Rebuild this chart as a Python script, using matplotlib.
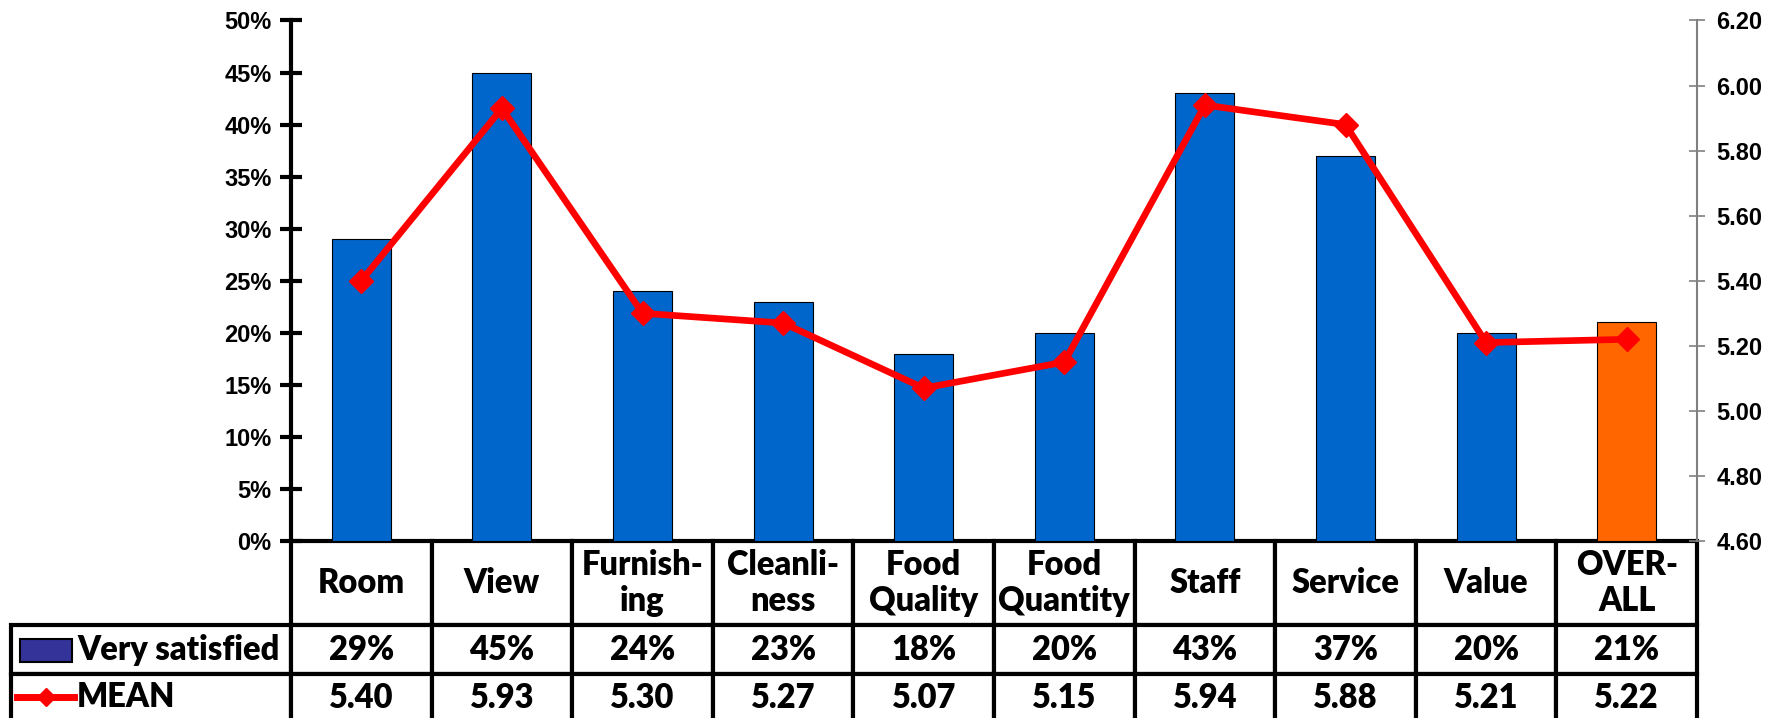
import matplotlib
matplotlib.use('Agg')
import matplotlib.pyplot as plt
import numpy as np
from matplotlib.table import Table
from matplotlib.lines import Line2D
from matplotlib.patches import Rectangle

categories = ['Room', 'View', 'Furnish-\ning', 'Cleanli-\nness', 'Food\nQuality',
              'Food\nQuantity', 'Staff', 'Service', 'Value', 'OVER-\nALL']
very_satisfied = [29, 45, 24, 23, 18, 20, 43, 37, 20, 21]
mean_scores = [5.40, 5.93, 5.30, 5.27, 5.07, 5.15, 5.94, 5.88, 5.21, 5.22]
pct_ticks = list(range(0, 51, 5))
mean_ticks = [4.6, 4.8, 5.0, 5.2, 5.4, 5.6, 5.8, 6.0, 6.2]

bar_colors = ['#0066CC'] * 9 + ['#FF6600']

plt.rcParams['font.family'] = ['Lato', 'DejaVu Sans']
plt.rcParams['font.weight'] = 'bold'
tick_font = {'family': 'Liberation Sans', 'weight': 'bold', 'size': 17}
TBL_SIZE = 23.5
TBL_WEIGHT = 'heavy'

W, H = 1789, 718
fig = plt.figure(figsize=(W / 100, H / 100), dpi=100)
# axes box in pixels: left 291, right 1697, top 20.5, bottom 541
ax = fig.add_axes([291 / W, 1 - 541 / H, 1406 / W, 520.5 / H])

x = np.arange(len(categories))
ax.bar(x, very_satisfied, width=0.42, color=bar_colors, edgecolor='black', linewidth=0.8, zorder=2)
ax.set_xlim(-0.5, len(categories) - 0.5)
ax.set_ylim(0, 50)
ax.set_yticks(pct_ticks)
ax.set_yticklabels([f'{v}%' for v in pct_ticks], fontdict=tick_font)
ax.set_xticks([])
for s in ['top', 'right', 'bottom']:
    ax.spines[s].set_visible(False)
ax.spines['left'].set_linewidth(3)
ax.tick_params(axis='y', direction='inout', length=16, width=3, pad=6)

ax2 = ax.twinx()
ax2.plot(x, mean_scores, color='#FF0000', lw=4.8, marker='D', ms=12.5, zorder=3)
ax2.set_ylim(4.6, 6.2)
ax2.set_yticks(mean_ticks)
ax2.set_yticklabels([f'{v:.2f}' for v in mean_ticks], fontdict=tick_font)
for s in ['top', 'left', 'bottom']:
    ax2.spines[s].set_visible(False)
ax2.spines['right'].set_color('#808080')
ax2.spines['right'].set_linewidth(1.5)
ax2.tick_params(axis='y', direction='inout', length=12, width=1.2, color='#808080',
                pad=8, labelcolor='black')

# data table under the chart (column 0 holds the row labels)
col_w, lab_w = 140.6, 280
head_h, row_h = 84, 49
tot_h = head_h + 2 * row_h
tbl = Table(ax, bbox=[(11 - 291) / 1406, -tot_h / 520.5, (1697 - 11) / 1406, tot_h / 520.5])
rows = [[f'{v}%' for v in very_satisfied], [f'{v:.2f}' for v in mean_scores]]
for j, c in enumerate(categories):
    tbl.add_cell(0, j + 1, col_w, head_h, text=c, loc='center')
for i, r in enumerate(rows):
    tbl.add_cell(i + 1, 0, lab_w, row_h, text='', loc='left')
    for j, t in enumerate(r):
        tbl.add_cell(i + 1, j + 1, col_w, row_h, text=t, loc='center')
tbl.auto_set_font_size(False)
for cell in tbl.get_celld().values():
    cell.set_linewidth(3)
    cell.set_edgecolor('black')
    cell.get_text().set_fontsize(TBL_SIZE)
    cell.get_text().set_fontweight(TBL_WEIGHT)
    cell.get_text().set_linespacing(1.15)
ax.add_table(tbl)
tbl.set_clip_on(False)

# legend keys inside the row label cells
def ax_x(px):
    return (px - 291) / 1406

def ax_y(py):
    return (541 - py) / 520.5

ax.add_patch(Rectangle((ax_x(20), ax_y(662)), 52 / 1406, 23 / 520.5, transform=ax.transAxes,
                       facecolor='#333399', edgecolor='black', lw=1.5, clip_on=False))
ax.add_line(Line2D([ax_x(17), ax_x(74)], [ax_y(697), ax_y(697)], transform=ax.transAxes,
                   color='#FF0000', lw=5, clip_on=False))
ax.add_line(Line2D([ax_x(45.5)], [ax_y(697)], transform=ax.transAxes, color='#FF0000',
                   marker='D', ms=9, clip_on=False))
ax.text(ax_x(77), ax_y(649.5), 'Very satisfied', transform=ax.transAxes, fontsize=TBL_SIZE,
        fontweight=TBL_WEIGHT, ha='left', va='center')
ax.text(ax_x(77), ax_y(697), 'MEAN', transform=ax.transAxes, fontsize=TBL_SIZE,
        fontweight=TBL_WEIGHT, ha='left', va='center')

fig.savefig('out.png', dpi=100)
